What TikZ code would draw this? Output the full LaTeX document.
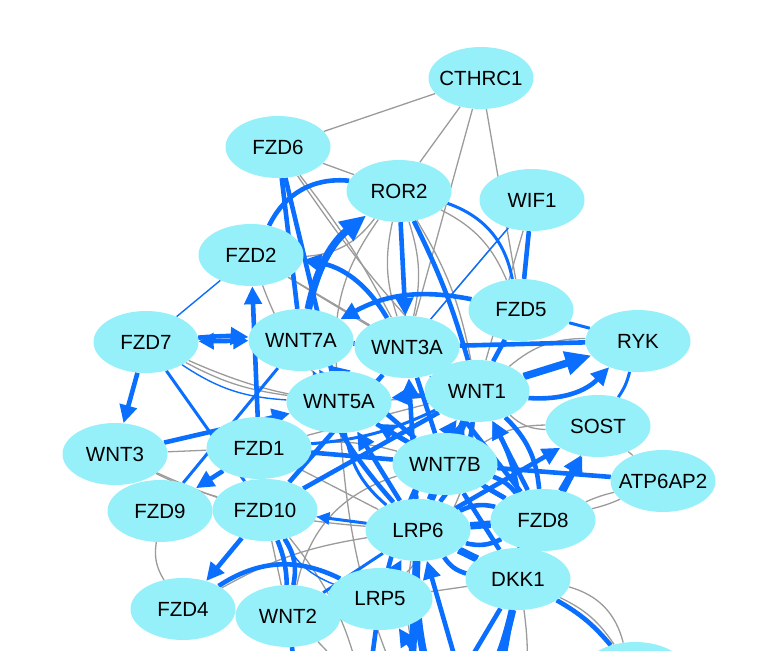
\documentclass[tikz,border=0pt]{standalone}
\usepackage{fontspec}
\setmainfont{Liberation Sans}
\usetikzlibrary{shapes.geometric,arrows.meta}
\definecolor{nodecyan}{RGB}{150,240,250}
\definecolor{edgeblue}{RGB}{10,110,255}
\definecolor{edgegray}{RGB}{155,155,155}
\pgfdeclarelayer{bg}
\pgfsetlayers{bg,main}
\newcommand\nlabel[1]{\makebox[0pt]{#1}}
\begin{document}
\begin{tikzpicture}[x=1pt,y=-1pt,
  gene/.style={ellipse, fill=nodecyan, minimum width=105pt, minimum height=62pt, inner sep=0pt, font=\fontsize{20.5}{24}\selectfont},
  g/.style={draw=edgegray, line width=1.3pt},
  b1/.style={draw=edgeblue, line width=1.4pt},
  b2/.style={draw=edgeblue, line width=3pt},
  b3/.style={draw=edgeblue, line width=4.6pt},
  b4/.style={draw=edgeblue, line width=7.5pt},
  a2/.style={-{Triangle[length=13pt,width=12pt]}},
  a3/.style={-{Triangle[length=18pt,width=17pt]}},
  a4/.style={-{Triangle[length=26pt,width=23pt]}},
  d3/.style={{Triangle[length=15pt,width=16pt]}-{Triangle[length=15pt,width=16pt]}}
]
\useasboundingbox (0,0) rectangle (773,650);
\begin{scope}
\clip (0,0) rectangle (773,650);
\node[gene] (CTHRC1) at (481,78) {\nlabel{CTHRC1}};
\node[gene] (FZD6) at (278,147) {\nlabel{FZD6}};
\node[gene] (ROR2) at (399,191) {\nlabel{ROR2}};
\node[gene] (WIF1) at (532,200) {\nlabel{WIF1}};
\node[gene] (FZD2) at (251,255) {\nlabel{FZD2}};
\node[gene] (FZD5) at (521,310) {\nlabel{FZD5}};
\node[gene] (FZD7) at (146,342) {\nlabel{FZD7}};
\node[gene] (WNT7A) at (301,340) {\nlabel{WNT7A}};
\node[gene] (WNT3A) at (407,347) {\nlabel{WNT3A}};
\node[gene] (RYK) at (638,341) {\nlabel{RYK}};
\node[gene] (WNT1) at (477,391) {\nlabel{WNT1}};
\node[gene] (WNT5A) at (339,402) {\nlabel{WNT5A}};
\node[gene] (SOST) at (598,426) {\nlabel{SOST}};
\node[gene] (WNT3) at (115,454) {\nlabel{WNT3}};
\node[gene] (FZD1) at (259,448) {\nlabel{FZD1}};
\node[gene] (WNT7B) at (445,464) {\nlabel{WNT7B}};
\node[gene] (ATP6AP2) at (663,481) {\nlabel{ATP6AP2}};
\node[gene] (FZD9) at (160,511) {\nlabel{FZD9}};
\node[gene] (FZD10) at (265,510) {\nlabel{FZD10}};
\node[gene] (LRP6) at (418,530) {\nlabel{LRP6}};
\node[gene] (FZD8) at (543,520) {\nlabel{FZD8}};
\node[gene] (DKK1) at (518,579) {\nlabel{DKK1}};
\node[gene] (FZD4) at (183,609) {\nlabel{FZD4}};
\node[gene] (WNT2) at (288,616) {\nlabel{WNT2}};
\node[gene] (LRP5) at (380,599) {\nlabel{LRP5}};
\node[gene] (PART) at (635,673) {};
\coordinate (o1) at (410,710);
\coordinate (o2) at (440,710);
\coordinate (o3) at (470,710);
\coordinate (o4) at (300,710);
\coordinate (o5) at (365,710);
\coordinate (o6) at (445,700);
\coordinate (o7) at (520,710);
\coordinate (o8) at (495,710);
\end{scope}
\begin{pgfonlayer}{bg}
\clip (0,0) rectangle (773,650);
% gray edges
\draw[g] (CTHRC1) -- (FZD6);
\draw[g] (CTHRC1) -- (ROR2);
\draw[g] (CTHRC1) -- (WNT3A);
\draw[g] (CTHRC1) -- (FZD5);
\draw[g] (FZD6) -- (ROR2);
\draw[g] (FZD6) to[bend left=5] (WNT3A);
\draw[g] (FZD6) to[bend right=5] (WNT1);
\draw[g] (ROR2) to[bend right=15] (WNT3A);
\draw[g] (ROR2) to[bend left=15] (WNT3A);
\draw[g] (ROR2) to[bend right=20] (WNT5A);
\draw[g] (ROR2) to[bend left=10] (WNT1);
\draw[g] (ROR2) to[bend left=20] (FZD5);
\draw[g] (FZD2) to[bend right=25] (ROR2);
\draw[g] (FZD2) -- (WNT3A);
\draw[g] (FZD2) -- (WNT1);
\draw[g] (FZD2) to[bend right=10] (WNT5A);
\draw[g] (WIF1) -- (WNT3A);
\draw[g] (WIF1) -- (WNT1);
\draw[g] (FZD5) -- (WNT1);
\draw[g] (WNT1) to[bend left=20] (RYK);
\draw[g] (FZD7) to[bend right=15] (WNT1);
\draw[g] (FZD7) to[bend right=10] (WNT5A);
\draw[g] (WNT3) -- (FZD1);
\draw[g] (WNT3) to[bend right=10] (LRP6);
\draw[g] (WNT3) to[bend right=5] (FZD10);
\draw[g] (FZD9) to[bend right=20] (FZD4);
\draw[g] (FZD10) -- (WNT2);
\draw[g] (FZD4) to[bend left=10] (LRP6);
\draw[g] (FZD10) -- (LRP6);
\draw[g] (FZD1) -- (LRP6);
\draw[g] (FZD1) to[bend left=10] (WNT7B);
\draw[g] (FZD1) -- (WNT1);
\draw[g] (WNT2) -- (LRP6);
\draw[g] (WNT2) to[bend left=30] (WNT7B);
\draw[g] (LRP5) to[bend right=20] (WNT1);
\draw[g] (LRP5) -- (DKK1);
\draw[g] (DKK1) to[bend left=30] (PART);
\draw[g] (DKK1) to[bend left=15] (PART);
\draw[g] (FZD8) to[bend left=5] (ATP6AP2);
\draw[g] (FZD8) to[bend right=5] (ATP6AP2);
\draw[g] (SOST) -- (FZD8);
\draw[g] (SOST) -- (ATP6AP2);
\draw[g] (WNT1) to[bend right=20] (SOST);
\draw[g] (WNT7B) to[bend left=15] (SOST);
\draw[g] (LRP6) to[bend right=20] (o2);
\draw[g] (WNT2) to[bend left=10] (o5);
\draw[g] (DKK1) to[bend left=10] (o7);
\draw[g] (FZD10) to[bend left=15] (o5);
\draw[g] (WNT5A) to[bend right=10] (o1);
% blue edges, top
\draw[b3] (FZD6) -- (WNT7A);
\draw[b3] (FZD6) -- (WNT5A);
\draw[b3] (FZD2) to[bend left=35] (ROR2);
\draw[b4,a4] (WNT7A) to[bend left=20] (ROR2);
\draw[b3,a3] (WNT3A) to[bend right=25] (FZD2);
\draw[b3,a3] (FZD5) to[bend right=20] (WNT7A);
\draw[b3,a3] (ROR2) -- (WNT3A);
\draw[b3] (ROR2) to[bend left=5] (WNT1);
\draw[b2] (ROR2) to[bend left=30] (FZD5);
\draw[b3] (WIF1) -- (FZD5);
\draw[b1] (WIF1) -- (WNT3A);
% blue edges, left
\draw[b1] (FZD7) -- (FZD2);
\draw[b3,a3] (FZD1) -- (FZD2);
\draw[b3,d3] (FZD7) -- (WNT7A);
\draw[b3,a3] (FZD7) to[bend left=4] (WNT7A);
\draw[b3,a3] (FZD7) -- (WNT3);
\draw[b2] (FZD7) -- (FZD10);
\draw[b1] (FZD7) to[bend right=15] (WNT5A);
\draw[b3,a3] (WNT3) -- (WNT5A);
\draw[b3,a3] (FZD1) -- (FZD9);
\draw[b2] (FZD9) -- (WNT7A);
\draw[b3,a3] (FZD10) -- (FZD4);
\draw[b3] (FZD10) to[bend left=10] (WNT2);
\draw[b3] (FZD10) to[bend left=22] (WNT2);
\draw[b3] (FZD4) to[bend left=30] (LRP5);
\draw[b2,a2] (LRP6) -- (FZD10);
\draw[b2] (LRP6) -- (WNT2);
\draw[b1] (FZD10) to[bend right=20] (LRP5);
% blue edges, right
\draw[b3] (WNT3A) -- (RYK);
\draw[b4,a4] (WNT1) -- (RYK);
\draw[b3,a3] (WNT1) to[bend right=25] (RYK);
\draw[b2] (FZD5) -- (RYK);
\draw[b2] (RYK) to[bend left=10] (SOST);
\draw[b3] (FZD5) -- (WNT1);
\draw[b3] (ATP6AP2) -- (WNT7B);
\draw[b3,a3] (LRP6) -- (SOST);
\draw[b3,a3] (FZD8) -- (SOST);
\draw[b3,a3] (DKK1) -- (SOST);
% blue edges, centre
\draw[b3] (WNT7A) -- (WNT3A);
\draw[b3,a3] (WNT5A) -- (WNT7A);
\draw[b3,a3] (WNT1) -- (WNT5A);
\draw[b3,a3] (LRP6) -- (WNT5A);
\draw[b3,a3] (LRP6) -- (WNT3A);
\draw[b4] (LRP6) -- (WNT1);
\draw[b3,a3] (FZD8) -- (WNT1);
\draw[b3,a3] (FZD8) -- (WNT3A);
\draw[b3] (WNT7B) -- (WNT3A);
\draw[b3] (WNT7B) -- (FZD1);
\draw[b3,a3] (WNT7B) -- (WNT7A);
\draw[b3] (FZD10) -- (WNT3A);
\draw[b3] (FZD10) -- (WNT1);
\draw[b3,a3] (LRP6) to[bend left=10] (WNT7A);
\draw[b2] (WNT5A) to[bend right=20] (LRP6);
\draw[b4] (LRP6) -- (WNT7B);
\draw[b3] (LRP6) to[bend left=25] (WNT7B);
\draw[b4] (LRP6) -- (FZD8);
\draw[b3] (LRP6) to[bend left=20] (FZD8);
\draw[b3] (LRP6) to[bend right=20] (FZD8);
\draw[b4] (DKK1) -- (LRP6);
\draw[b3] (DKK1) to[bend left=20] (LRP6);
\draw[b3] (DKK1) -- (WNT7B);
\draw[b3] (DKK1) -- (FZD8);
\draw[b3,a3] (LRP5) -- (LRP6);
\draw[b3] (FZD8) -- (WNT7B);
\draw[b3] (FZD8) to[bend right=15] (WNT7B);
\draw[b3,a3] (DKK1) to[bend right=15] (WNT1);
\draw[b3,a3] (FZD8) -- (WNT5A);
\draw[b3] (WNT1) to[bend left=20] (FZD8);
\draw[b3,a3] (WNT7B) -- (WNT1);
\draw[b3] (LRP6) to[bend right=15] (WNT1);
\draw[b2] (FZD1) to[bend right=10] (WNT1);
\draw[b3] (WNT5A) -- (WNT7B);
\draw[b3,a3] (LRP5) to[bend left=10] (WNT1);
% blue edges, bottom
\draw[b4] (LRP6) -- (o1);
\draw[b4] (LRP6) to[bend right=10] (o2);
\draw[b3,a3] (o3) -- (LRP6);
\draw[b3] (DKK1) -- (o2);
\draw[b4] (DKK1) to[bend left=10] (o3);
\draw[b3] (DKK1) -- (o8);
\draw[b3] (DKK1) to[bend left=10] (PART);
\draw[b3] (LRP5) -- (o5);
\draw[b3] (WNT2) -- (o4);
\draw[b3,a3] (o6) -- (LRP5);
\end{pgfonlayer}
\end{tikzpicture}
\end{document}
